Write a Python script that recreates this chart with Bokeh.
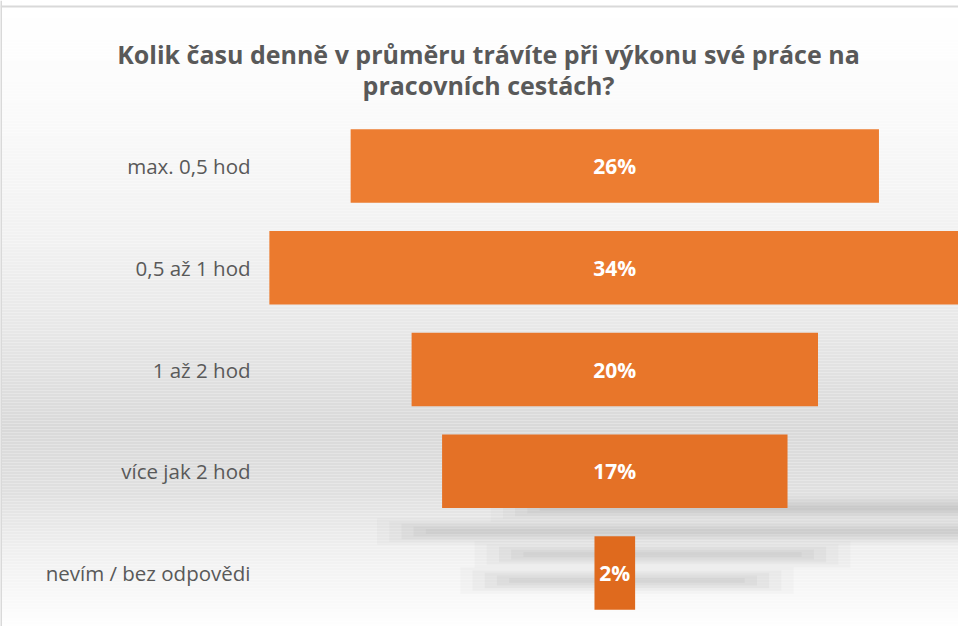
from bokeh.plotting import figure
from bokeh.models import Range1d, ColumnDataSource, Span
from bokeh.core.properties import value
from bokeh.embed import file_html
from bokeh.resources import INLINE

# ---- data ----
categories = ["max. 0,5 hod", "0,5 až 1 hod", "1 až 2 hod", "více jak 2 hod", "nevím / bez odpovědi"]
shares = [26, 34, 20, 17, 2]
share_labels = ["26%", "34%", "20%", "17%", "2%"]
title_lines = ["Kolik času denně v průměru trávíte při výkonu své práce na", "pracovních cestách?"]

# ---- styling / layout ----
bar_colors = ["#ED7D31", "#EB7A2E", "#E8762A", "#E47126", "#DF6A1E"]
TEXT = "#595959"
W, H = 958, 626
PX_PER_X = 20.32          # px per percentage point
PX_PER_Y = 101.75         # px per category row
CX, CY = 622.3 - 8, 173.5 - 8   # figure-pixel position of x=0 / row 0

def dx(px):  # figure pixel -> data x
    return (px - CX) / PX_PER_X

def dy(py):  # figure pixel -> data y
    return (py - CY) / PX_PER_Y

p = figure(width=W, height=H, output_backend="svg", toolbar_location=None,
           x_range=Range1d(dx(0), dx(W)), y_range=Range1d(dy(H), dy(0)),
           x_axis_type=None, y_axis_type=None, min_border=0)
p.grid.visible = False
p.outline_line_color = None
p.background_fill_color = "white"
p.border_fill_color = "white"

# background vertical gradient (decoration)
stops = [(6, (255, 255, 255)), (112, (250, 250, 250)), (242, (241, 241, 241)),
         (322, (232, 232, 232)), (427, (217, 217, 217)), (492, (224, 224, 224)),
         (552, (240, 240, 240)), (632, (255, 255, 255))]
def col_at(y):
    for (y0, c0), (y1, c1) in zip(stops[:-1], stops[1:]):
        if y0 <= y <= y1:
            t = (y - y0) / (y1 - y0)
            c = [round(a + (b - a) * t) for a, b in zip(c0, c1)]
            return "#%02x%02x%02x" % tuple(c)
    return "#ffffff"
tops, bots, cols = [], [], []
y = 6
while y < H:
    tops.append(dy(y)); bots.append(dy(min(y + 3, H))); cols.append(col_at(y + 1.5))
    y += 3
p.quad(left=dx(0), right=dx(W), top=tops, bottom=bots, fill_color=cols, line_color=None)

# chart border (left and top)
p.add_layout(Span(location=dy(6), dimension="width", line_color="#d9d9d9", line_width=2))
p.add_layout(Span(location=dx(0.5), dimension="height", line_color="#d9d9d9", line_width=2))

# soft floor reflections under the funnel (decoration)
sh_rows = [0, 1, 2, 3]
sh_y = [dy(508), dy(531), dy(554), dy(580)]
sh_dl = [7.5, 5.9, 3.7, 1.5]
sh_dr = [7.5, 5.9, 1.0, -0.3]
layers = [(0.26, 0.045, -0.6), (0.20, 0.055, 0.0), (0.15, 0.065, 0.6), (0.10, 0.075, 1.2), (0.05, 0.08, 1.8)]
for k, row in enumerate(sh_rows):
    half = shares[row] / 2
    for hh, a, inset in layers:
        p.hbar(y=sh_y[k], left=-half + sh_dl[k] + inset, right=half + sh_dr[k] - inset, height=hh,
               fill_color="#8a8a8a", fill_alpha=a, line_color=None)

# bars
src = ColumnDataSource(dict(
    row=list(range(len(categories))),
    left=[-v / 2 for v in shares],
    right=[v / 2 for v in shares],
    color=bar_colors,
    lab=share_labels,
    cat=categories,
))
p.hbar(y="row", left="left", right="right", height=0.72, fill_color="color",
       line_color=None, source=src)

# value labels
p.text(x=0, y="row", text="lab", source=src, text_align="center", text_baseline="middle",
       text_color="white", text_font=value("Open Sans"), text_font_style="bold",
       text_font_size="21px")

# category labels
p.text(x=dx(250), y="row", text="cat", source=src, text_align="right", text_baseline="middle",
       text_color=TEXT, text_font=value("Open Sans"), text_font_size="20.5px")

# title
p.text(x=[dx(488)] * 2, y=[dy(53), dy(84)], text=title_lines, text_align="center",
       text_baseline="alphabetic", text_color=TEXT, text_font=value("Open Sans"),
       text_font_style="bold", text_font_size="25px")

open("out.html", "w").write(file_html(p, INLINE))
